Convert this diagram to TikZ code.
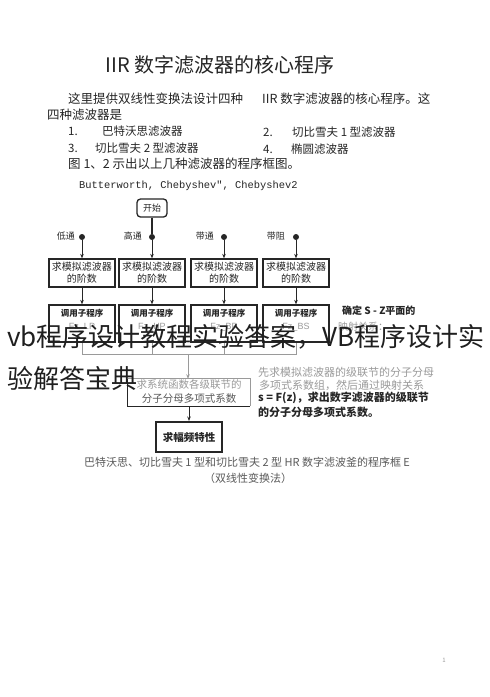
\documentclass[tikz,border=0pt]{standalone}
\usepackage{fontspec}
\setmainfont{Noto Sans CJK SC}
\newfontfamily\monof{Liberation Mono}
\newfontfamily\latsans{Liberation Sans}
\usetikzlibrary{arrows.meta}
\definecolor{ink}{HTML}{262626}
\definecolor{soft}{HTML}{5A5A5A}
\definecolor{faded}{HTML}{9A9A9A}
\begin{document}
\begin{tikzpicture}[x=1pt,y=-1pt,
  txt/.style={inner sep=0pt, text=ink},
  fbox/.style={draw=ink, line width=1.3pt, minimum width=66pt, inner sep=0pt, align=center, text=ink},
  arr/.style={-{Stealth[length=4.5pt,width=3.5pt]}, line width=1pt, draw=ink},
  garr/.style={-{Stealth[length=4.5pt,width=3.5pt]}, line width=0.9pt, draw=faded},
  busline/.style={line width=0.9pt, draw=faded},
  fdot/.style={circle, fill=ink, inner sep=0pt, minimum size=6pt},
  flab/.style={inner sep=0pt, text=ink, anchor=east, font=\fontsize{9}{9}\selectfont},
  body/.style={inner sep=0pt, text=ink, anchor=west, font=\fontsize{12.5}{12.5}\selectfont},
]
\path[use as bounding box, fill=white] (0,0) rectangle (490,697);

% title
\node[txt, font=\fontsize{20}{20}\selectfont] (title) at (220,65) {IIR 数字滤波器的核心程序};

% paragraph
\node[body] (p1) at (68,99) {这里提供双线性变换法设计四种};
\node[body] (p1r) at (262,99) {IIR 数字滤波器的核心程序。这};
\node[body] (p2) at (47,115) {四种滤波器是};
\node[body, font=\fontsize{11.5}{11.5}\selectfont] (n1) at (68,131) {1.};
\node[body, font=\fontsize{11.5}{11.5}\selectfont] (i1) at (102,131) {巴特沃思滤波器};
\node[body, font=\fontsize{11.5}{11.5}\selectfont] (n2) at (263,132) {2.};
\node[body, font=\fontsize{11.5}{11.5}\selectfont] (i2) at (292,132) {切比雪夫 1 型滤波器};
\node[body, font=\fontsize{11.5}{11.5}\selectfont] (n3) at (68,148) {3.};
\node[body, font=\fontsize{11.5}{11.5}\selectfont] (i3) at (95,148) {切比雪夫 2 型滤波器};
\node[body, font=\fontsize{11.5}{11.5}\selectfont] (n4) at (263,149) {4.};
\node[body, font=\fontsize{11.5}{11.5}\selectfont] (i4) at (291,149) {椭圆滤波器};
\node[body] (p5) at (68,164) {图 1、2 示出以上几种滤波器的程序框图。};
\node[body, font=\monof\fontsize{10.4}{10.4}\selectfont] (p6) at (79,186) {Butterworth, Chebyshev", Chebyshev2};

% flowchart
\node[draw=ink, rounded corners=3.5pt, line width=1.3pt, minimum width=30pt, minimum height=18pt, inner sep=0pt, text=ink, font=\fontsize{9}{9}\selectfont] (start) at (152,208) {开始};

\node[fdot] (d1) at (82,237) {};
\node[fdot] (d2) at (152,237) {};
\node[fdot] (d3) at (224,237) {};
\node[fdot] (d4) at (296,237) {};
\node[flab] (l1) at (75,236) {低通};
\node[flab] (l2) at (142,236) {高通};
\node[flab] (l3) at (214,236) {带通};
\node[flab] (l4) at (285,236) {带阻};

\draw[line width=1.2pt, draw=ink] (start) -- (d2);

\foreach \i/\x in {1/82,2/152,3/224,4/296}{
  \node[fbox, minimum height=28pt, font=\fontsize{10}{12}\selectfont] (a\i) at (\x,273) {求模拟滤波器\\的阶数};
  \node[fbox, minimum height=37pt] (b\i) at (\x,323.5) {};
  \draw[arr] (d\i) -- (a\i);
  \draw[arr] (a\i) -- (b\i);
}
\node[txt, font=\bfseries\fontsize{8.5}{8.5}\selectfont] (t1) at (82,313) {调用子程序};
\node[txt, font=\bfseries\fontsize{8.5}{8.5}\selectfont] (t2) at (152,313) {调用子程序};
\node[txt, font=\bfseries\fontsize{8.5}{8.5}\selectfont] (t3) at (224,313) {调用子程序};
\node[txt, font=\bfseries\fontsize{8.5}{8.5}\selectfont] (t4) at (296,313) {调用子程序};
\node[txt, text=faded, font=\latsans\fontsize{9}{9}\selectfont] (f1) at (82,327) {Fz\_LP};
\node[txt, text=faded, font=\latsans\fontsize{9}{9}\selectfont] (f2) at (152,327) {Fz\_HP};
\node[txt, text=faded, font=\latsans\fontsize{9}{9}\selectfont] (f3) at (224,327) {Fz\_BP};
\node[txt, text=faded, font=\latsans\fontsize{9}{9}\selectfont] (f4) at (296,327) {Fz\_BS};

% bus
\coordinate (j) at (188,354);
\draw[busline] (b1.south) -- (b1.south |- j) -- (b4.south |- j) -- (b4.south);
\draw[busline] (b2.south) -- (b2.south |- j);
\draw[busline] (b3.south) -- (b3.south |- j);

\node[minimum width=122pt, minimum height=27pt, inner sep=0pt] (c) at (189,392.5) {};
\draw[line width=1pt, draw=faded] (c.north west) -- (c.north east) -- (c.south east);
\draw[line width=1.3pt, draw=ink] (c.north west) -- (c.south west) -- (c.south east);
\node[txt, text=faded, font=\fontsize{10.5}{10.5}\selectfont] (c1) at (189,385) {求系统函数各级联节的};
\node[txt, text=soft, font=\fontsize{10.5}{10.5}\selectfont] (c2) at (189,399) {分子分母多项式系数};
\draw[garr] (j) -- (c.north -| j);

\node[fbox, line width=2pt, minimum height=30pt, font=\bfseries\fontsize{10.5}{10.5}\selectfont] (d) at (189,437) {求幅频特性};
\draw[arr] (c) -- (d);

% side notes
\node[body, font=\bfseries\fontsize{10}{10}\selectfont] (s1) at (342,311) {确定 S - Z平面的};
\node[body, text=faded, font=\fontsize{10}{10}\selectfont] (s2) at (338,327) {映射关系：};
\node[body, text=faded, font=\fontsize{11}{11}\selectfont] (s3) at (258,372) {先求模拟滤波器的级联节的分子分母};
\node[body, text=faded, font=\fontsize{11}{11}\selectfont] (s4) at (259,385) {多项式系数组，然后通过映射关系};
\node[body, font=\bfseries\fontsize{11}{11}\selectfont] (s5) at (258,398) {s = F(z)，求出数字滤波器的级联节};
\node[body, font=\bfseries\fontsize{11}{11}\selectfont] (s6) at (258,412) {的分子分母多项式系数。};

% watermark
\node[inner sep=0pt, anchor=west, text=black!88, font=\fontsize{26}{26}\selectfont] (wm1) at (7,337) {vb程序设计教程实验答案，VB程序设计实};
\node[inner sep=0pt, anchor=west, text=black!88, font=\fontsize{26}{26}\selectfont] (wm2) at (7,379) {验解答宝典};

% caption
\node[txt, text=soft, font=\fontsize{11}{11}\selectfont] (cap1) at (247,462) {巴特沃思、切比雪夫 1 型和切比雪夫 2 型 HR 数字滤波釜的程序框 E};
\node[txt, text=soft, font=\fontsize{11}{11}\selectfont] (cap2) at (248,478) {（双线性变换法）};

\node[txt, text=faded, font=\fontsize{6}{6}\selectfont] (pg) at (444,660) {1};
\end{tikzpicture}
\end{document}
